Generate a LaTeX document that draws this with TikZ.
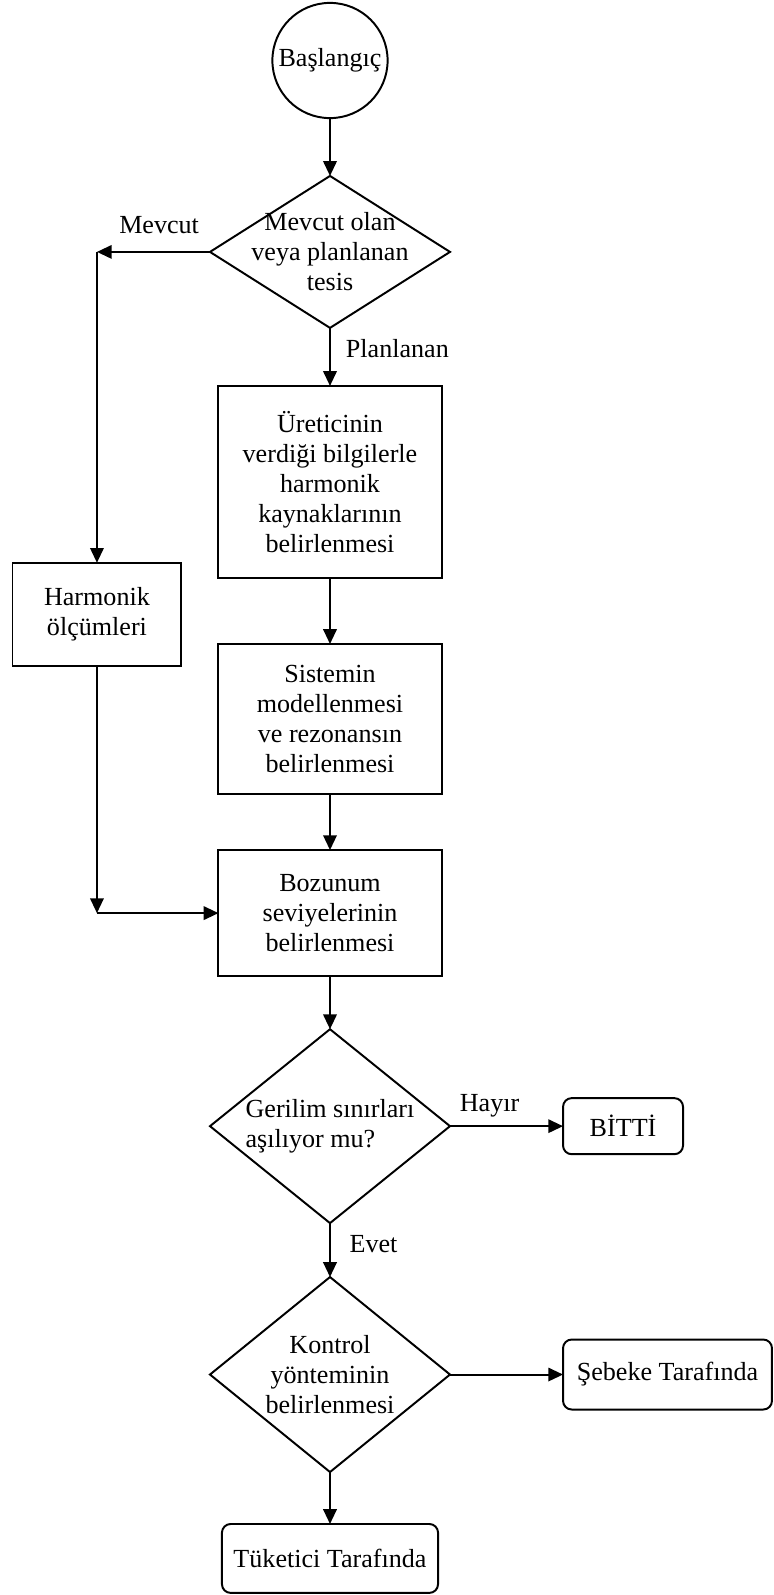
\documentclass[tikz,border=0pt]{standalone}
\usepackage{fontspec}
\setmainfont{Liberation Serif}
\usepackage{tikz}
\usetikzlibrary{positioning, arrows.meta, shapes.geometric}

\begin{document}
\begin{tikzpicture}[
  every node/.style={font=\fontsize{12pt}{13.8pt}\selectfont, outer sep=0pt},
  process/.style={draw, rectangle, align=center, minimum width=102.6pt},
  decision/.style={draw, diamond, align=center, inner sep=-15pt, minimum width=110.4pt},
  terminal/.style={draw, rounded corners=4pt, align=center},
  line width=0.9pt,
  ->, >={Triangle[length=6.8pt, width=6.2pt]}
]
\useasboundingbox (-151.8pt,27.83pt) rectangle (204.24pt,-705.87pt);

% Main column
\node[draw, circle, inner sep=0pt, minimum size=53pt] (start) at (0,0) {Başlangıç};
\node[decision, below=26.6pt of start, minimum height=69.9pt] (tesis) {Mevcut olan\\veya planlanan\\tesis};
\node[process, below=26.7pt of tesis, minimum height=88.3pt] (uretici) {Üreticinin\\verdiği bilgilerle\\harmonik\\kaynaklarının\\belirlenmesi};
\node[process, below=30.4pt of uretici, minimum height=69pt] (model) {Sistemin\\modellenmesi\\ve rezonansın\\belirlenmesi};
\node[process, below=25.8pt of model, minimum height=58pt] (bozunum) {Bozunum\\seviyelerinin\\belirlenmesi};
\node[decision, below=24.4pt of bozunum, minimum height=89.2pt, align=left] (gerilim) {Gerilim sınırları\\aşılıyor mu?};
\node[decision, below=24.8pt of gerilim, minimum height=89.7pt] (kontrol) {Kontrol\\yönteminin\\belirlenmesi};
\node[terminal, below=23.9pt of kontrol, minimum width=99.4pt, minimum height=31.7pt] (tuketici) {Tüketici Tarafında};

% Side branches
\node[terminal, right=52pt of gerilim, minimum width=55.2pt, minimum height=25.8pt] (bitti) {BİTTİ};
\node[terminal, right=52pt of kontrol, minimum width=96.1pt, minimum height=32.2pt] (sebeke) {Şebeke Tarafında};
\coordinate[left=52pt of tesis.west] (mevcutcorner);
\node[process, below=143pt of mevcutcorner, minimum width=77.7pt, minimum height=47.4pt] (olcum) {Harmonik\\ölçümleri};
\coordinate (olcumcorner) at (olcum |- bozunum);

% Connections
\draw (start) -- (tesis);
\draw (tesis) -- node[pos=0.36, right=4pt] (lblplan) {Planlanan} (uretici);
\draw (tesis) -- node[pos=0.45, above=5pt] (lblmevcut) {Mevcut} (mevcutcorner);
\draw (mevcutcorner) -- (olcum);
\draw (olcum) -- (olcumcorner);
\draw (olcumcorner) -- (bozunum);
\draw (uretici) -- (model);
\draw (model) -- (bozunum);
\draw (bozunum) -- (gerilim);
\draw (gerilim) -- node[pos=0.35, above=1pt] (lblhayir) {Hayır} (bitti);
\draw (gerilim) -- node[pos=0.39, right=5.7pt] (lblevet) {Evet} (kontrol);
\draw (kontrol) -- (sebeke);
\draw (kontrol) -- (tuketici);

\end{tikzpicture}
\end{document}
